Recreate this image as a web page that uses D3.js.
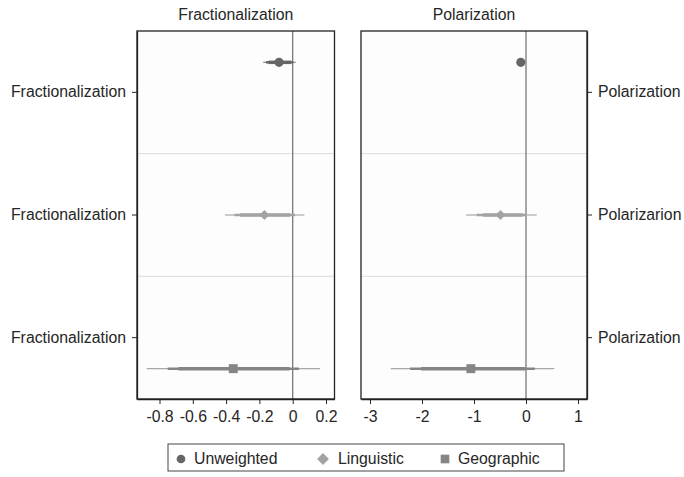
<!DOCTYPE html>
<html>
<head>
<meta charset="utf-8">
<script src="https://cdn.jsdelivr.net/npm/d3@7"></script>
<style>
  body { margin: 0; background: #fff; }
  text { font-family: "Liberation Sans", Arial, sans-serif; fill: #262626; }
</style>
</head>
<body>
<svg id="chart" width="684" height="477"></svg>
<script>
// data
const panels = ['Fractionalization', 'Polarization'];
const leftLabels = ['Fractionalization', 'Fractionalization', 'Fractionalization'];
const rightLabels = ['Polarization', 'Polarizarion', 'Polarization'];
const series = ['Unweighted', 'Linguistic', 'Geographic'];
const fracTicks = [-0.8, -0.6, -0.4, -0.2, 0, 0.2];
const polTicks = [-3, -2, -1, 0, 1];

// [estimate, thin lo, thin hi, mid lo, mid hi, thick lo, thick hi]
const fracEst = [
    [-0.082, -0.177, 0.018, -0.16, 0.003, -0.145, -0.01],
    [-0.17, -0.407, 0.07, -0.35, 0.014, -0.316, -0.016],
    [-0.357, -0.877, 0.164, -0.751, 0.038, -0.687, -0.02]
];
const polEst = [
    [-0.10, -0.16, -0.04, -0.14, -0.06, -0.13, -0.07],
    [-0.49, -1.15, 0.205, -0.95, 0.01, -0.83, -0.06],
    [-1.06, -2.6, 0.545, -2.23, 0.17, -2.02, -0.02]
];

const colors = ['#666666', '#a3a3a3', '#858585'];
const thinColors = ['#8a8a8a', '#b8b8b8', '#a8a8a8'];
const FS = 15.8;

const svg = d3.select('#chart');
const plotTop = 31, plotBottom = 399;

const y = d3.scaleBand().domain([0, 1, 2]).range([plotTop, plotBottom]);
const slot = [-30, 0, 31];

let xFrac = d3.scaleLinear().domain([0, 0.2]).range([292.7, 326]);
xFrac.domain([xFrac.invert(137), xFrac.invert(334.5)]).range([137, 334.5]);
let xPol = d3.scaleLinear().domain([0, 1]).range([526, 578]);
xPol.domain([xPol.invert(361), xPol.invert(587)]).range([361, 587]);

function marker(sel, i, size) {
    // diamond = rotated square
    let sym = [d3.symbolCircle, d3.symbolSquare, d3.symbolSquare][i];
    return sel.append('path')
        .attr('d', d3.symbol().type(sym).size(size)())
        .attr('fill', colors[i]);
}

function drawPanel(x, data, ticks, title, side) {
    let [x0, x1] = x.range();
    let g = svg.append('g');

    g.append('rect')
        .attr('x', x0).attr('y', plotTop)
        .attr('width', x1 - x0).attr('height', plotBottom - plotTop)
        .attr('fill', '#fdfdfd');

    // row separators
    [1, 2].forEach(i => {
        g.append('line')
            .attr('x1', x0).attr('x2', x1)
            .attr('y1', y(i)).attr('y2', y(i))
            .attr('stroke', '#dcdcdc').attr('stroke-width', 1);
    });

    // zero line
    g.append('line')
        .attr('x1', x(0)).attr('x2', x(0))
        .attr('y1', plotTop).attr('y2', plotBottom)
        .attr('stroke', '#6e6e6e').attr('stroke-width', 1.2);

    data.forEach((d, i) => {
        let cy = y(i) + y.bandwidth() / 2 + slot[i];
        g.append('line')
            .attr('x1', x(d[1])).attr('x2', x(d[2]))
            .attr('y1', cy).attr('y2', cy)
            .attr('stroke', thinColors[i]).attr('stroke-width', 1.3);
        g.append('line')
            .attr('x1', x(d[3])).attr('x2', x(d[4]))
            .attr('y1', cy).attr('y2', cy)
            .attr('stroke', colors[i]).attr('stroke-width', 2.5);
        g.append('line')
            .attr('x1', x(d[5])).attr('x2', x(d[6]))
            .attr('y1', cy).attr('y2', cy)
            .attr('stroke', colors[i]).attr('stroke-width', 3.5);
        marker(g, i, [65, 48, 80][i])
            .attr('transform', `translate(${x(d[0])},${cy})` + (i === 1 ? ' rotate(45)' : ''));
    });

    // frame
    g.append('rect')
        .attr('x', x0).attr('y', plotTop)
        .attr('width', x1 - x0).attr('height', plotBottom - plotTop)
        .attr('fill', 'none').attr('stroke', '#222').attr('stroke-width', 1.3);

    // x axis
    let ax = g.append('g')
        .attr('transform', `translate(0,${plotBottom})`)
        .call(d3.axisBottom(x).tickValues(ticks).tickSize(5).tickSizeOuter(0)
            .tickFormat(d => d3.format('')(d).replace('\u2212', '-')));
    ax.select('.domain').attr('stroke', '#222').attr('stroke-width', 1.3);
    ax.selectAll('.tick line').attr('stroke', '#222');
    ax.selectAll('.tick text').attr('font-size', FS).attr('dy', '0.95em');

    // y axis
    let ayAxis = side === 'left' ? d3.axisLeft(y) : d3.axisRight(y);
    let ay = g.append('g')
        .attr('transform', `translate(${side === 'left' ? x0 : x1},0)`)
        .call(ayAxis.tickSize(5).tickSizeOuter(0).tickPadding(6)
            .tickFormat(i => side === 'left' ? leftLabels[i] : rightLabels[i]));
    ay.select('.domain').attr('stroke', '#222').attr('stroke-width', 1.3);
    ay.selectAll('.tick line').attr('stroke', '#222');
    ay.selectAll('.tick text').attr('font-size', FS);

    g.append('text')
        .attr('x', (x0 + x1) / 2).attr('y', 20)
        .attr('text-anchor', 'middle').attr('font-size', FS)
        .text(title);
}

drawPanel(xFrac, fracEst, fracTicks, panels[0], 'left');
drawPanel(xPol, polEst, polTicks, panels[1], 'right');

// legend
let lg = svg.append('g');
lg.append('rect')
    .attr('x', 168).attr('y', 444).attr('width', 396).attr('height', 27)
    .attr('fill', '#fff').attr('stroke', '#444').attr('stroke-width', 1);
let legX = [181, 323, 445];
let textX = [194, 338, 458];
series.forEach((s, i) => {
    marker(lg, i, [60, 70, 75][i])
        .attr('transform', `translate(${legX[i]},459)` + (i === 1 ? ' rotate(45)' : ''));
    lg.append('text')
        .attr('x', textX[i]).attr('y', 464)
        .attr('font-size', FS)
        .text(s);
});
</script>
</body>
</html>
